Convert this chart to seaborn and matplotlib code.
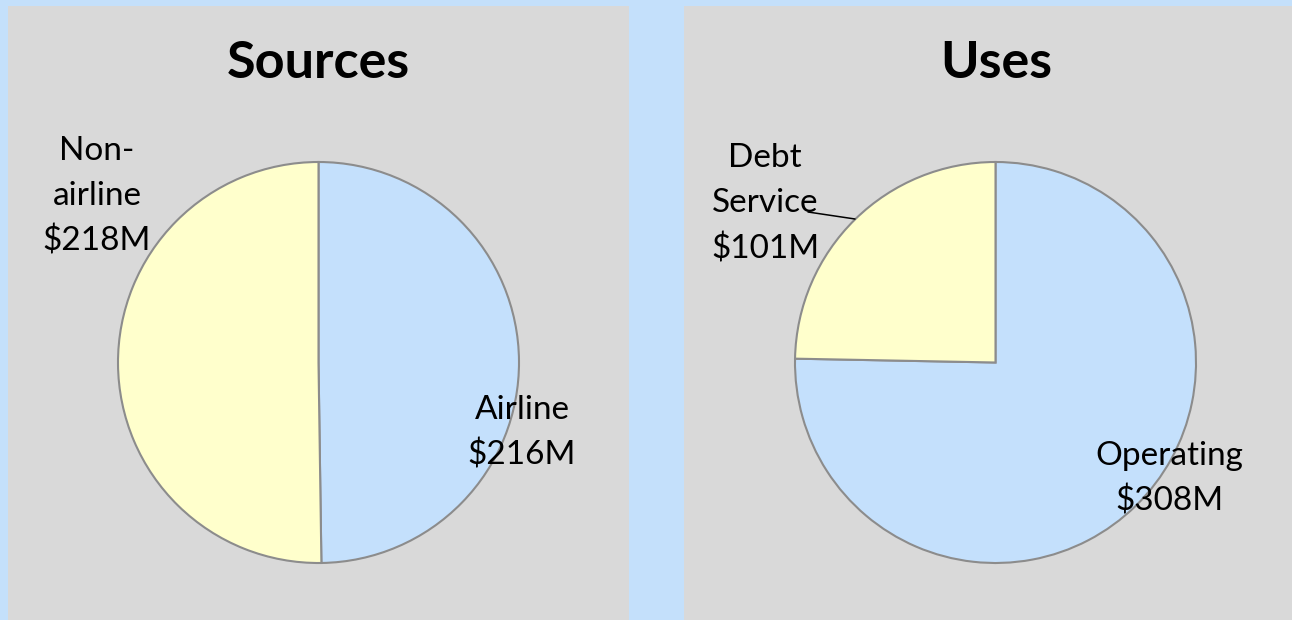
import matplotlib
matplotlib.use("Agg")
import matplotlib.pyplot as plt
from matplotlib.patches import Rectangle
import seaborn as sns

# ---- data ----
titles = ["Sources", "Uses"]
sources_labels = ["Airline\n$216M", "Non-\nairline\n$218M"]
sources_values = [216, 218]
uses_labels = ["Operating\n$308M", "Debt\nService\n$101M"]
uses_values = [308, 101]

# ---- style ----
sns.set_style("white")
plt.rcParams['font.family'] = ['Lato', 'DejaVu Sans']

BG_BLUE = "#C4E0FB"
PANEL = "#D9D9D9"
SLICE_COLORS = ["#C4E0FC", "#FFFFCC"]
EDGE = "#8C8C8C"

W, H = 1292, 620
fig = plt.figure(figsize=(W / 100, H / 100), dpi=100, facecolor=BG_BLUE)
ax = fig.add_axes([0, 0, 1, 1])
ax.set_xlim(0, W)
ax.set_ylim(0, H)
ax.set_aspect("equal")
ax.axis("off")


def Y(y):  # pixel-from-top -> data y
    return H - y


# panels
ax.add_patch(Rectangle((8, Y(620)), 621, 614, facecolor=PANEL, edgecolor="none", zorder=0))
ax.add_patch(Rectangle((684, Y(620)), 608, 614, facecolor=PANEL, edgecolor="none", zorder=0))

panels = [
    dict(title=titles[0], values=sources_values, labels=sources_labels,
         center=(318.5, 362.5), title_x=318,
         label_pos=[(522, 419), (97, 159.5)]),
    dict(title=titles[1], values=uses_values, labels=uses_labels,
         center=(995.5, 362.5), title_x=996,
         label_pos=[(1169, 465), (765, 167)]),
]

LINE_SP = 45.5
for p in panels:
    cx, cy = p["center"]
    ax.pie(p["values"], colors=SLICE_COLORS, startangle=90, counterclock=False,
           center=(cx, Y(cy)), radius=200.5,
           wedgeprops=dict(edgecolor=EDGE, linewidth=1.5))
    ax.text(p["title_x"], Y(78), p["title"], ha="center", va="baseline",
            fontsize=37.5, fontweight="bold", color="black")
    for lab, (lx, ly) in zip(p["labels"], p["label_pos"]):
        for i, line in enumerate(lab.split("\n")):
            ax.text(lx, Y(ly + i * LINE_SP), line, ha="center", va="baseline",
                    fontsize=24, color="black")

# leader line for Debt Service
ax.plot([808, 855], [Y(212), Y(219)], color="black", linewidth=1.1)

ax.set_xlim(0, W)
ax.set_ylim(0, H)
fig.savefig("out.png", dpi=100, facecolor=BG_BLUE)
